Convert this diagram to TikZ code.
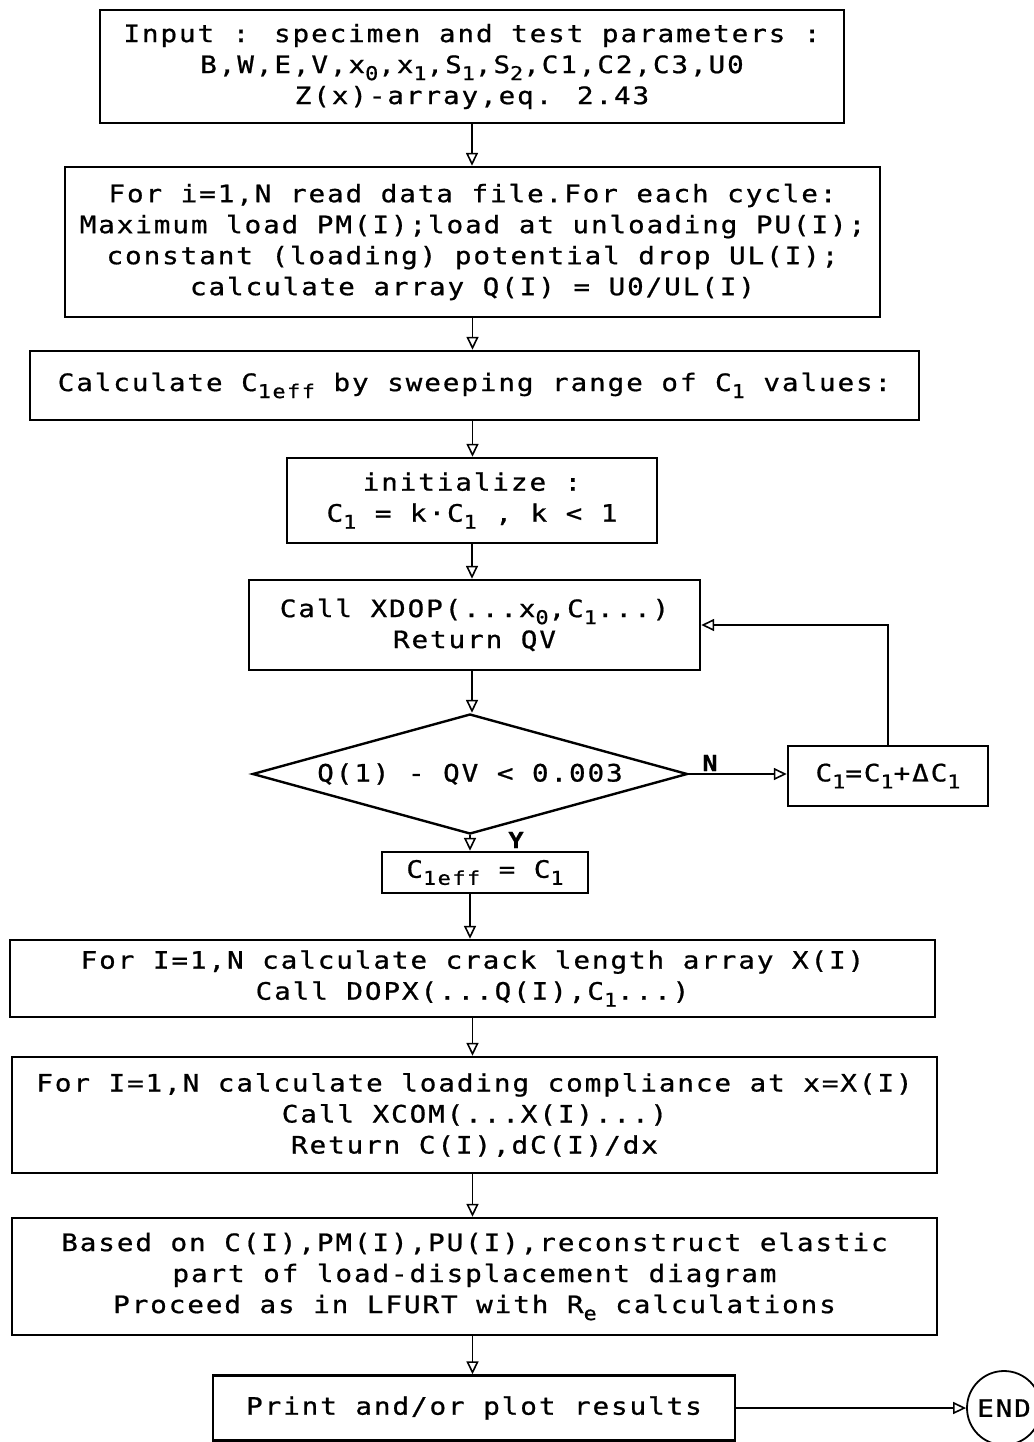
\documentclass[tikz,border=0pt]{standalone}
\usepackage{fontspec}
\usetikzlibrary{arrows.meta,shapes.geometric,calc}
% plotter-like monospaced lettering
\newfontfamily\plotfont[FakeStretch=1.15,LetterSpace=8,FakeBold=0.8]{DejaVu Sans Mono}
% lowered small index (C_1, x_0, ...)
\newcommand\lw[1]{\raisebox{-7pt}{\fontsize{19}{19}\selectfont #1}}

\begin{document}
\begin{tikzpicture}[x=1pt,y=-1pt,
  box/.style={draw, line width=2.4pt, inner sep=0pt, align=center,
    font=\plotfont\fontsize{24}{31}\selectfont},
  cond/.style={draw, diamond, line width=2.4pt, inner sep=0pt, aspect=3.625,
    font=\plotfont\fontsize{24}{31}\selectfont},
  term/.style={draw, circle, line width=1.8pt, inner sep=0pt,
    font=\plotfont\fontsize{24}{31}\selectfont},
  arr/.style={line width=1.8pt,
    -{Triangle[open,length=13pt,width=12pt,line width=1.6pt]}},
  lbl/.style={inner sep=0pt, font=\plotfont\bfseries\fontsize{22}{22}\selectfont}]

\useasboundingbox (0,0) rectangle (1033,1442);

% main column
\node[box, minimum width=744, minimum height=113] (inp) at (472,66.5)
  {Input : specimen and test parameters :\\
   B,W,E,V,x\lw{0},x\lw{1},S\lw{1},S\lw{2},C1,C2,C3,U0\\
   Z(x)-array,eq. 2.43};
\node[box, minimum width=815, minimum height=150] (rd) at (472.5,242)
  {For i=1,N read data file.For each cycle:\\
   Maximum load PM(I);load at unloading PU(I);\\
   constant (loading) potential drop UL(I);\\
   calculate array Q(I) = U0/UL(I)};
\node[box, minimum width=889, minimum height=69] (cal) at (474.5,385.5)
  {Calculate C\lw{1eff} by sweeping range of C\lw{1} values:};
\node[box, minimum width=370, minimum height=85] (ini) at (472,500.5)
  {initialize :\\ C\lw{1} = k·C\lw{1} , k < 1};
\node[box, minimum width=451, minimum height=90] (xd) at (474.5,625)
  {Call XDOP(...x\lw{0},C\lw{1}...)\\ Return QV};
\node[cond, minimum width=435, minimum height=120] (dia) at (470,774)
  {Q(1) - QV < 0.003};
\node[box, minimum width=200, minimum height=60] (inc) at (888,776)
  {C\lw{1}=C\lw{1}+ΔC\lw{1}};
\node[box, minimum width=206, minimum height=41] (eff) at (485,872.5)
  {C\lw{1eff} = C\lw{1}};
\node[box, minimum width=925, minimum height=77] (crk) at (472.5,978.5)
  {For I=1,N calculate crack length array X(I)\\
   Call DOPX(...Q(I),C\lw{1}...)};
\node[box, minimum width=925, minimum height=116] (com) at (474.5,1115)
  {For I=1,N calculate loading compliance at x=X(I)\\
   Call XCOM(...X(I)...)\\
   Return C(I),dC(I)/dx};
\node[box, minimum width=925, minimum height=117] (rec) at (474.5,1276.5)
  {Based on C(I),PM(I),PU(I),reconstruct elastic\\
   part of load-displacement diagram\\
   Proceed as in LFURT with R\lw{e} calculations};
\node[box, minimum width=522, minimum height=65] (prt) at (474,1408)
  {Print and/or plot results};
\node[term, minimum size=74] (end) at (1004,1408) {END};

% branch labels
\node[lbl] (lN) at (710,763) {N};
\node[lbl] (lY) at (516,840) {Y};

% connectors
\draw[arr] (inp.south) -- (inp.south |- rd.north);
\draw[arr] (rd.south) -- (rd.south |- cal.north);
\draw[arr] (rd.south |- cal.south) -- (rd.south |- ini.north);
\draw[arr] (ini.south) -- (ini.south |- xd.north);
\draw[arr] (ini.south |- xd.south) -- (ini.south |- dia.north);
\draw[arr] (dia.east) -- (dia.east -| inc.west);
\draw[arr] (inc.north) |- (xd.east);
\draw[arr] (dia.south) -- (dia.south |- eff.north);
\draw[arr] (dia.south |- eff.south) -- (dia.south |- crk.north);
\draw[arr] (crk.south) -- (crk.south |- com.north);
\draw[arr] (crk.south |- com.south) -- (crk.south |- rec.north);
\draw[arr] (crk.south |- rec.south) -- (crk.south |- prt.north);
\draw[arr] (prt.east) -- (end.west);
\end{tikzpicture}
\end{document}
